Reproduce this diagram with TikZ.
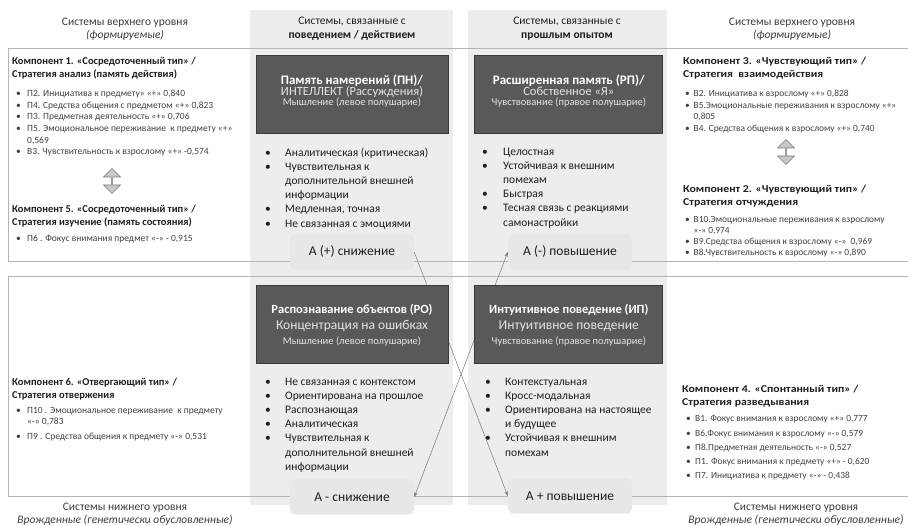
\documentclass[tikz,border=0pt]{standalone}
\usepackage{fontspec}
\setmainfont{Carlito}
\newfontfamily\wideFont[FakeStretch=1.12]{Carlito}
\usepackage{xcolor}
\definecolor{colBg}{HTML}{EDEDED}
\definecolor{labelBg}{HTML}{E7E7E7}
\definecolor{darkFill}{HTML}{595959}
\definecolor{darkEdge}{HTML}{3A3A3A}
\definecolor{frameGray}{HTML}{B4B4B4}
\definecolor{arrowGray}{HTML}{7A7A7A}
\definecolor{arrowFill}{HTML}{C8C8C8}
\definecolor{textDark}{HTML}{1E1E1E}
\definecolor{textGray}{HTML}{404040}
\definecolor{hdrGray}{HTML}{3C3C3C}
\definecolor{lightText}{HTML}{E4E4E4}
\usetikzlibrary{positioning,calc,arrows.meta,shapes.arrows}
\tikzset{%
  levelHeader/.style={%
    align=center,
    inner sep=0pt,
    font=\fontsize{11.5}{13}\selectfont,
    text=hdrGray
  },
  columnHeader/.style={%
    align=center,
    inner sep=0pt,
    font=\fontsize{11.5}{14}\selectfont,
    text=textDark
  },
  darkBox/.style={%
    rectangle,
    draw=darkEdge,
    fill=darkFill,
    line width=0.8pt,
    minimum width=192pt,
    minimum height=78pt
  },
  darkText/.style={%
    align=center,
    inner sep=0pt,
    text=white
  },
  compTitle/.style={%
    anchor=base west,
    inner sep=0pt,
    font=\fontsize{10.5}{12.5}\selectfont\bfseries,
    text=textDark
  },
  compTitleWide/.style={%
    compTitle,
    font=\wideFont\fontsize{10.5}{12.5}\selectfont\bfseries
  },
  smallList/.style={%
    anchor=base west,
    inner sep=0pt,
    font=\fontsize{9.5}{11.7}\selectfont,
    text=textGray
  },
  smallListSkip/.style={%
    smallList,
    font=\fontsize{9.4}{#1}\selectfont
  },
  featureList/.style={%
    anchor=base west,
    inner sep=0pt,
    font=\fontsize{11.5}{14.2}\selectfont,
    text=textDark
  },
  stateLabel/.style={%
    rectangle,
    rounded corners=5pt,
    fill=labelBg,
    minimum width=124pt,
    minimum height=35pt,
    font=\fontsize{13.5}{15}\selectfont,
    text=textDark
  },
  linkArrow/.style={%
    -{Stealth[length=5pt,width=3.5pt]},
    line width=0.5pt,
    draw=arrowGray
  },
  swapArrow/.style={%
    double arrow,
    shape border rotate=90,
    minimum height=25pt,
    minimum width=17pt,
    double arrow head extend=4pt,
    inner sep=0pt,
    fill=arrowFill,
    draw=arrowGray,
    line width=0.6pt
  },
  frameLine/.style={%
    draw=frameGray,
    line width=0.8pt
  }
}

\begin{document}
\begin{tikzpicture}[x=1pt,y=-1pt]
  \useasboundingbox (0,0) rectangle (908,526);

  % grey columns
  \fill[colBg] (250,10) rectangle (453,505);
  \fill[colBg] (468,10) rectangle (667,505);

  % frames of the two levels
  \draw[frameLine] (908,48) -- (8,48) -- (8,261) -- (908,261);
  \draw[frameLine] (908,276) -- (8,276) -- (8,496) -- (908,496);

  % headers
  \node[levelHeader] (topLeftHdr) at (125,29.5) {Системы верхнего уровня\\ \textit{(формируемые)}};
  \node[levelHeader] (topRightHdr) at (792,29.5) {Системы верхнего уровня\\ \textit{(формируемые)}};
  \node[levelHeader] (botLeftHdr) at (125,514) {Системы нижнего уровня\\ \textit{Врожденные (генетически обусловленные)}};
  \node[levelHeader] (botRightHdr) at (796,514) {Системы нижнего уровня\\ \textit{Врожденные (генетически обусловленные)}};
  \node[columnHeader] (actHdr) at (352,29) {Системы, связанные с\\ \textbf{поведением / действием}};
  \node[columnHeader] (pastHdr) at (567,29) {Системы, связанные с\\ \textbf{прошлым опытом}};

  % state labels on the frame lines
  \node[stateLabel] (snizhTop) at (352,252) {А (+) снижение};
  \node[stateLabel] (povyshTop) at (570,252) {А (-) повышение};
  \node[stateLabel] (snizhBot) at (352,497) {А - снижение};
  \node[stateLabel] (povyshBot) at (570,496) {А + повышение};

  \draw[linkArrow] (snizhTop.east) -- (povyshBot.west);
  \draw[linkArrow, {Stealth[length=5pt,width=3.5pt]}-{Stealth[length=5pt,width=3.5pt]}] (snizhBot.east) -- (povyshTop.west);

  % dark boxes
  \node[darkBox] (pn) at (352,94) {};
  \node[darkText, font=\fontsize{12.5}{11.7}\selectfont] (pnText) at ([yshift=3pt]pn.center)
    {\textbf{\fontsize{13}{11.7}\selectfont Память намерений (ПН)/}\\
     {\color{lightText}ИНТЕЛЛЕКТ (Рассуждения)}\\[-1.7pt]
     {\color{lightText}\fontsize{10.5}{11.7}\selectfont Мышление (левое полушарие)}};
  \node[darkBox, right=26pt of pn, minimum width=188pt] (rp) {};
  \node[darkText, font=\fontsize{12.5}{11.7}\selectfont] (rpText) at ([yshift=3pt]rp.center)
    {\textbf{\fontsize{13}{11.7}\selectfont Расширенная память (РП)/}\\
     {\color{lightText}Собственное «Я»}\\[-1.7pt]
     {\color{lightText}\fontsize{10.5}{11.7}\selectfont Чувствование (правое полушарие)}};
  \node[darkBox] (ro) at (352,324) {};
  \node[darkText, font=\fontsize{13.5}{16}\selectfont] (roText) at ([yshift=-1pt]ro.center)
    {\textbf{\fontsize{12.5}{16}\selectfont Распознавание объектов (РО)}\\
     {\color{lightText}Концентрация на ошибках}\\[-0.5pt]
     {\color{lightText}\fontsize{10.5}{16}\selectfont Мышление (левое полушарие)}};
  \node[darkBox, right=26pt of ro, minimum width=188pt] (ip) {};
  \node[darkText, font=\fontsize{13.5}{16}\selectfont] (ipText) at ([yshift=-1pt]ip.center)
    {\textbf{\fontsize{12.5}{16}\selectfont Интуитивное поведение (ИП)}\\
     {\color{lightText}Интуитивное поведение}\\[-0.5pt]
     {\color{lightText}\fontsize{10.5}{16}\selectfont Чувствование (правое полушарие)}};

  % feature lists
  \node[featureList] (pnList) at (265,156.2) {\begin{tabular}[t]{@{}p{20pt}@{}l@{}}
    \textbullet & Аналитическая (критическая)\\
    \textbullet & Чувствительная к\\
                & дополнительной внешней\\
                & информации\\
    \textbullet & Медленная, точная\\
    \textbullet & Не связанная с эмоциями
  \end{tabular}};
  \node[featureList] (rpList) at (482,155.2) {\begin{tabular}[t]{@{}p{21pt}@{}l@{}}
    \textbullet & Целостная\\
    \textbullet & Устойчивая к внешним\\
                & помехам\\
    \textbullet & Быстрая\\
    \textbullet & Тесная связь с реакциями\\
                & самонастройки
  \end{tabular}};
  \node[featureList] (roList) at (265,385.2) {\begin{tabular}[t]{@{}p{20pt}@{}l@{}}
    \textbullet & Не связанная с контекстом\\
    \textbullet & Ориентирована на прошлое\\
    \textbullet & Распознающая\\
    \textbullet & Аналитическая\\
    \textbullet & Чувствительная к\\
                & дополнительной внешней\\
                & информации
  \end{tabular}};
  \node[featureList] (ipList) at (485,385.2) {\begin{tabular}[t]{@{}p{20pt}@{}l@{}}
    \textbullet & Контекстуальная\\
    \textbullet & Кросс-модальная\\
    \textbullet & Ориентирована на настоящее\\
                & и будущее\\
    \textbullet & Устойчивая к внешним\\
                & помехам
  \end{tabular}};

  % upper left: components 1 and 5
  \node[compTitle] (comp1) at (12,64.8) {\begin{tabular}[t]{@{}l@{}}
    Компонент 1. «Сосредоточенный тип» /\\ Стратегия анализ (память действия)\end{tabular}};
  \node[smallList] (comp1List) at (16,96.5) {\begin{tabular}[t]{@{}p{11pt}@{}l@{}}
    \textbullet & П2. Инициатива к предмету» «+» 0,840\\
    \textbullet & П4. Средства общения с предметом «+» 0,823\\
    \textbullet & П3. Предметная деятельность «+» 0,706\\
    \textbullet & П5. Эмоциональное переживание~~к предмету «+»\\
                & 0,569\\
    \textbullet & В3. Чувствительность к взрослому «+» -0,574
  \end{tabular}};
  \node[swapArrow] (swapLeft) at (112,181) {};
  \node[compTitle] (comp5) at (12,212.8) {\begin{tabular}[t]{@{}l@{}}
    Компонент 5. «Сосредоточенный тип» /\\ Стратегия изучение (память состояния)\end{tabular}};
  \node[smallList] (comp5List) at (16,241.5) {\begin{tabular}[t]{@{}p{11pt}@{}l@{}}
    \textbullet & П6 . Фокус внимания предмет «-» - 0,915
  \end{tabular}};

  % upper right: components 3 and 2
  \node[compTitleWide] (comp3) at (683,64.8) {\begin{tabular}[t]{@{}l@{}}
    Компонент 3. «Чувствующий тип» /\\ Стратегия~~взаимодействия\end{tabular}};
  \node[smallListSkip=11.7] (comp3List) at (685,96.5) {\begin{tabular}[t]{@{}p{8.5pt}@{}l@{}}
    \textbullet & В2. Инициатива к взрослому «+» 0,828\\
    \textbullet & В5.Эмоциональные переживания к взрослому «+»\\
                & 0,805\\
    \textbullet & В4. Средства общения к взрослому «+» 0,740
  \end{tabular}};
  \node[swapArrow] (swapRight) at (786,152) {};
  \node[compTitleWide] (comp2) at (683,192.8) {\begin{tabular}[t]{@{}l@{}}
    Компонент 2. «Чувствующий тип» /\\ Стратегия отчуждения\end{tabular}};
  \node[smallListSkip=11] (comp2List) at (685,222.4) {\begin{tabular}[t]{@{}p{8.5pt}@{}l@{}}
    \textbullet & В10.Эмоциональные переживания к взрослому\\
                & «-» 0,974\\
    \textbullet & В9.Средства общения к взрослому «-»~~0,969\\
    \textbullet & В8.Чувствительность к взрослому «-» 0,890
  \end{tabular}};

  % lower left: component 6
  \node[compTitle] (comp6) at (12,385.8) {\begin{tabular}[t]{@{}l@{}}
    Компонент 6. «Отвергающий тип» /\\ Стратегия отвержения\end{tabular}};
  \node[smallList, font=\fontsize{9.5}{11}\selectfont] (comp6List) at (16,413.4) {\begin{tabular}[t]{@{}p{11pt}@{}l@{}}
    \textbullet & П10 . Эмоциональное переживание~~к предмету\\
                & «-» 0,783\\[4pt]
    \textbullet & П9 . Средства общения к предмету «-» 0,531
  \end{tabular}};

  % lower right: component 4
  \node[compTitleWide] (comp4) at (682,392.8) {\begin{tabular}[t]{@{}l@{}}
    Компонент 4. «Спонтанный тип» /\\ Стратегия разведывания\end{tabular}};
  \node[smallListSkip=14.2] (comp4List) at (686,422) {\begin{tabular}[t]{@{}p{9pt}@{}l@{}}
    \textbullet & В1. Фокус внимания к взрослому «+» 0,777\\
    \textbullet & В6.Фокус внимания к взрослому «-» 0,579\\
    \textbullet & П8.Предметная деятельность «-» 0,527\\
    \textbullet & П1. Фокус внимания к предмету «+» - 0,620\\
    \textbullet & П7. Инициатива к предмету «-» - 0,438
  \end{tabular}};
\end{tikzpicture}
\end{document}
